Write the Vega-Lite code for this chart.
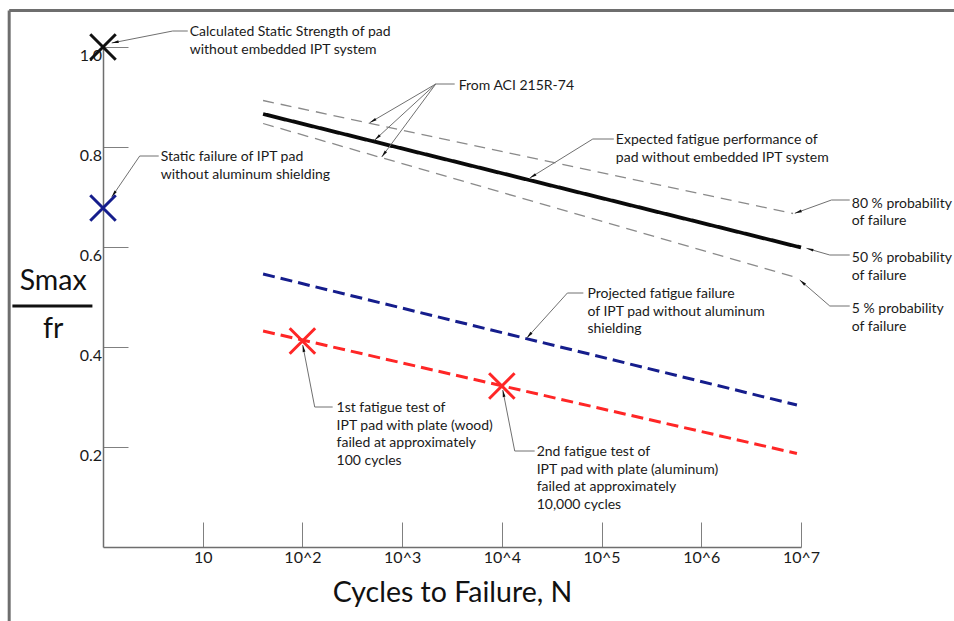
{
  "$schema": "https://vega.github.io/schema/vega-lite/v6.json",
  "width": 698,
  "height": 500,
  "autosize": {"type": "none"},
  "padding": {"left": 103, "top": 47, "right": 153, "bottom": 74},
  "background": "white",
  "config": {"view": {"stroke": null}, "font": "Lato"},
  "datasets": {
    "frame": [
      {"N": 0.1146, "v": 1.073, "N2": 1000000000, "v2": 1.073},
      {"N": 0.1146, "v": 1.073, "N2": 0.1146, "v2": -0.3}
    ],
    "lines": [
      {"s": "80 % probability of failure", "N": 40.3, "v": 0.893},
      {"s": "80 % probability of failure", "N": 8330000, "v": 0.667},
      {"s": "50 % probability of failure", "N": 40.3, "v": 0.866},
      {"s": "50 % probability of failure", "N": 10000000, "v": 0.599},
      {"s": "5 % probability of failure", "N": 40.3, "v": 0.847},
      {"s": "5 % probability of failure", "N": 8670000, "v": 0.54},
      {"s": "Projected, IPT pad without aluminum shielding", "N": 40.3, "v": 0.546},
      {"s": "Projected, IPT pad without aluminum shielding", "N": 9100000, "v": 0.284},
      {"s": "IPT pad with plate", "N": 40.3, "v": 0.432},
      {"s": "IPT pad with plate", "N": 9100000, "v": 0.187}
    ],
    "markers": [
      {"k": "Calculated static strength", "N": 1, "v": 1.0},
      {"k": "Static failure without shielding", "N": 1, "v": 0.678},
      {"k": "Fatigue test", "N": 100, "v": 0.412},
      {"k": "Fatigue test", "N": 10000, "v": 0.322}
    ],
    "leaders": [
      {"id": "L1", "o": 1, "N": 7.08, "v": 1.032},
      {"id": "L1", "o": 2, "N": 5.0, "v": 1.032},
      {"id": "L1", "o": 3, "N": 1.223, "v": 1.008},
      {"id": "L2", "o": 1, "N": 3.62, "v": 0.782},
      {"id": "L2", "o": 2, "N": 2.334, "v": 0.782},
      {"id": "L2", "o": 3, "N": 1.223, "v": 0.7},
      {"id": "L3h", "o": 1, "N": 3365, "v": 0.926},
      {"id": "L3h", "o": 2, "N": 2173, "v": 0.926},
      {"id": "L3a", "o": 1, "N": 2173, "v": 0.926},
      {"id": "L3a", "o": 2, "N": 473, "v": 0.8486},
      {"id": "L3b", "o": 1, "N": 2173, "v": 0.926},
      {"id": "L3b", "o": 2, "N": 531, "v": 0.814},
      {"id": "L3c", "o": 1, "N": 2173, "v": 0.926},
      {"id": "L3c", "o": 2, "N": 624, "v": 0.78},
      {"id": "L4", "o": 1, "N": 132700, "v": 0.816},
      {"id": "L4", "o": 2, "N": 81660, "v": 0.816},
      {"id": "L4", "o": 3, "N": 19050, "v": 0.738},
      {"id": "L5", "o": 1, "N": 30800000, "v": 0.694},
      {"id": "L5", "o": 2, "N": 20200000, "v": 0.694},
      {"id": "L5", "o": 3, "N": 8670000, "v": 0.6674},
      {"id": "L6", "o": 1, "N": 30800000, "v": 0.584},
      {"id": "L6", "o": 2, "N": 19450000, "v": 0.584},
      {"id": "L6", "o": 3, "N": 11350000, "v": 0.5974},
      {"id": "L7", "o": 1, "N": 30800000, "v": 0.482},
      {"id": "L7", "o": 2, "N": 19450000, "v": 0.482},
      {"id": "L7", "o": 3, "N": 9720000, "v": 0.534},
      {"id": "L8", "o": 1, "N": 65650, "v": 0.508},
      {"id": "L8", "o": 2, "N": 45400, "v": 0.508},
      {"id": "L8", "o": 3, "N": 17780, "v": 0.418},
      {"id": "L9", "o": 1, "N": 201, "v": 0.28},
      {"id": "L9", "o": 2, "N": 132.8, "v": 0.28},
      {"id": "L9", "o": 3, "N": 100.7, "v": 0.404},
      {"id": "L10", "o": 1, "N": 21330, "v": 0.192},
      {"id": "L10", "o": 2, "N": 13460, "v": 0.192},
      {"id": "L10", "o": 3, "N": 10210, "v": 0.314}
    ],
    "arrows": [
      {"N": 1.223, "v": 1.008, "fN": 5.0, "fV": 1.032},
      {"N": 1.223, "v": 0.7, "fN": 2.334, "fV": 0.782},
      {"N": 473, "v": 0.8486, "fN": 2173, "fV": 0.926},
      {"N": 531, "v": 0.814, "fN": 2173, "fV": 0.926},
      {"N": 624, "v": 0.78, "fN": 2173, "fV": 0.926},
      {"N": 19050, "v": 0.738, "fN": 81660, "fV": 0.816},
      {"N": 8670000, "v": 0.6674, "fN": 20200000, "fV": 0.694},
      {"N": 11350000, "v": 0.5974, "fN": 19450000, "fV": 0.584},
      {"N": 9720000, "v": 0.534, "fN": 19450000, "fV": 0.482},
      {"N": 17780, "v": 0.418, "fN": 45400, "fV": 0.508},
      {"N": 100.7, "v": 0.404, "fN": 132.8, "fV": 0.28},
      {"N": 10210, "v": 0.314, "fN": 13460, "fV": 0.192}
    ],
    "notes": [
      {"t": "Calculated Static Strength of pad\nwithout embedded IPT system", "N": 7.41, "v": 1.022},
      {"t": "Static failure of IPT pad\nwithout aluminum shielding", "N": 3.79, "v": 0.772},
      {"t": "From ACI 215R-74", "N": 3690, "v": 0.915},
      {"t": "Expected fatigue performance of\npad without embedded IPT system", "N": 139000, "v": 0.806},
      {"t": "80 % probability\nof failure", "N": 32300000, "v": 0.679},
      {"t": "50 % probability\nof failure", "N": 32300000, "v": 0.57},
      {"t": "5 % probability\nof failure", "N": 32300000, "v": 0.468},
      {"t": "Projected fatigue failure\nof IPT pad without aluminum\nshielding", "N": 72100, "v": 0.498},
      {"t": "1st fatigue test of\nIPT pad with plate (wood)\nfailed at approximately\n100 cycles", "N": 220, "v": 0.27},
      {"t": "2nd fatigue test of\nIPT pad with plate (aluminum)\nfailed at approximately\n10,000 cycles", "N": 22340, "v": 0.182}
    ],
    "ytitle": [
      {"t": "Smax", "N": 0.316, "v": 0.514},
      {"t": "fr", "N": 0.316, "v": 0.418}
    ],
    "bar": [
      {"N": 0.1234, "v": 0.482, "N2": 0.783, "v2": 0.482}
    ]
  },
  "encoding": {
    "x": {
      "field": "N",
      "type": "quantitative",
      "scale": {"type": "log", "domain": [1, 10000000], "nice": false},
      "axis": {
        "values": [10, 100, 1000, 10000, 100000, 1000000, 10000000],
        "labelExpr": "datum.value == 10 ? '10' : '10^' + round(log(datum.value)/LN10)",
        "grid": false,
        "tickSize": -25,
        "tickColor": "#808080",
        "tickWidth": 1,
        "domainColor": "#6e6e6e",
        "domainWidth": 1.5,
        "labelFont": "Lato",
        "labelFontSize": 16,
        "labelColor": "#1a1a1a",
        "labelPadding": 27,
        "labelBaseline": "top",
        "labelFlush": false,
        "labelOverlap": false,
        "title": "Cycles to Failure, N",
        "titleFont": "Lato",
        "titleFontSize": 28.5,
        "titleFontWeight": "normal",
        "titleColor": "#111111",
        "titleBaseline": "alphabetic",
        "titleY": 54
      }
    },
    "y": {
      "field": "v",
      "type": "quantitative",
      "scale": {"domain": [0, 1], "nice": false, "zero": false},
      "axis": {
        "values": [0.2, 0.4, 0.6, 0.8, 1.0],
        "format": ".1f",
        "grid": false,
        "tickSize": -25,
        "tickColor": "#808080",
        "tickWidth": 1,
        "domainColor": "#6e6e6e",
        "domainWidth": 1.5,
        "labelFont": "Lato",
        "labelFontSize": 16,
        "labelColor": "#1a1a1a",
        "labelPadding": 26.5,
        "labelBaseline": "middle",
        "labelOffset": 8,
        "labelFlush": false,
        "labelOverlap": false,
        "title": null
      }
    }
  },
  "layer": [
    {
      "data": {"name": "frame"},
      "mark": {"type": "rule", "color": "#6e6e6e", "strokeWidth": 3},
      "encoding": {"x2": {"field": "N2"}, "y2": {"field": "v2"}}
    },
    {
      "data": {"name": "lines"},
      "mark": {"type": "line"},
      "encoding": {
        "color": {
          "field": "s", "type": "nominal", "legend": null,
          "scale": {
            "domain": ["80 % probability of failure", "50 % probability of failure", "5 % probability of failure", "Projected, IPT pad without aluminum shielding", "IPT pad with plate"],
            "range": ["#8a8a8a", "#0a0a0a", "#8a8a8a", "#151d8c", "#ff2626"]
          }
        },
        "strokeDash": {
          "field": "s", "type": "nominal", "legend": null,
          "scale": {
            "domain": ["80 % probability of failure", "50 % probability of failure", "5 % probability of failure", "Projected, IPT pad without aluminum shielding", "IPT pad with plate"],
            "range": [[11, 7], [1, 0], [11, 7], [12, 6], [12, 6]]
          }
        },
        "strokeWidth": {
          "field": "s", "type": "nominal", "legend": null,
          "scale": {
            "type": "ordinal",
            "domain": ["80 % probability of failure", "50 % probability of failure", "5 % probability of failure", "Projected, IPT pad without aluminum shielding", "IPT pad with plate"],
            "range": [1.3, 3.8, 1.3, 3, 3]
          }
        }
      }
    },
    {
      "data": {"name": "leaders"},
      "mark": {"type": "line", "color": "#707070", "strokeWidth": 1},
      "encoding": {
        "detail": {"field": "id", "type": "nominal"},
        "order": {"field": "o", "type": "quantitative"}
      }
    },
    {
      "data": {"name": "arrows"},
      "transform": [
        {"calculate": "atan2(99.714*(log(datum.N)-log(datum.fN))/LN10, 500*(datum.v-datum.fV))*180/PI", "as": "ang"}
      ],
      "mark": {"type": "point", "shape": "M0,0L-0.4,2L0.4,2Z", "filled": true, "color": "#111111", "opacity": 1, "size": 49},
      "encoding": {
        "angle": {"field": "ang", "type": "quantitative", "scale": null}
      }
    },
    {
      "data": {"name": "markers"},
      "mark": {"type": "point", "shape": "M-1,-1L1,1M1,-1L-1,1", "filled": false, "strokeWidth": 3, "size": 650, "opacity": 1},
      "encoding": {
        "stroke": {
          "field": "k", "type": "nominal", "legend": null,
          "scale": {
            "domain": ["Calculated static strength", "Static failure without shielding", "Fatigue test"],
            "range": ["#111111", "#151d8c", "#ff2626"]
          }
        }
      }
    },
    {
      "data": {"name": "notes"},
      "mark": {"type": "text", "align": "left", "baseline": "alphabetic", "lineBreak": "\n", "lineHeight": 17.5, "font": "Lato", "fontSize": 14, "color": "#1a1a1a"},
      "encoding": {"text": {"field": "t", "type": "nominal"}}
    },
    {
      "data": {"name": "ytitle"},
      "mark": {"type": "text", "align": "center", "baseline": "alphabetic", "font": "Lato", "fontSize": 28.5, "color": "#111111"},
      "encoding": {"text": {"field": "t", "type": "nominal"}}
    },
    {
      "data": {"name": "bar"},
      "mark": {"type": "rule", "color": "#111111", "strokeWidth": 3},
      "encoding": {"x2": {"field": "N2"}, "y2": {"field": "v2"}}
    }
  ]
}
